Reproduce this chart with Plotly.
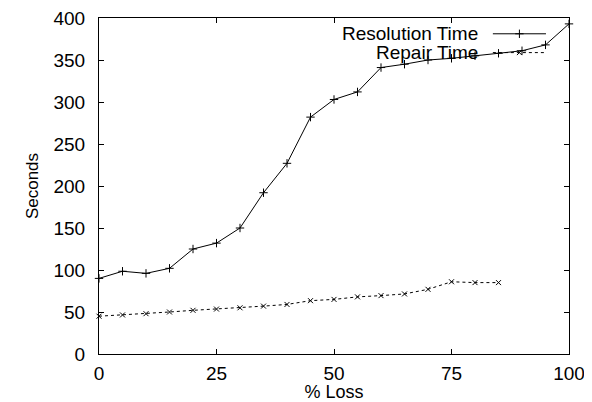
import plotly.graph_objects as go

loss = [0, 5, 10, 15, 20, 25, 30, 35, 40, 45, 50, 55, 60, 65, 70, 75, 80, 85, 90, 95, 100]
resolution_time = [90, 98.5, 96, 102, 125, 132, 150, 192, 227, 282, 303, 312, 341, 345, 350, 352, 355, 358, 361, 368, 393]
repair_loss = [0, 5, 10, 15, 20, 25, 30, 35, 40, 45, 50, 55, 60, 65, 70, 75, 80, 85]
repair_time = [45, 46.5, 48, 50, 52, 53.5, 55, 57, 59, 63.5, 65, 68, 69.5, 71.5, 77, 86, 85, 85]
x_ticks = [0, 25, 50, 75, 100]
y_ticks = [0, 50, 100, 150, 200, 250, 300, 350, 400]
series_names = ["Resolution Time", "Repair Time"]

FONT = "Liberation Sans, Arial, sans-serif"
DASH = "3px,3px"

fig = go.Figure()
fig.add_trace(go.Scatter(
    x=loss, y=resolution_time, mode="lines+markers", name=series_names[0],
    line=dict(color="black", width=1),
    marker=dict(symbol="cross-thin", size=6, line=dict(color="black", width=1)),
    showlegend=False, cliponaxis=False))
fig.add_trace(go.Scatter(
    x=repair_loss, y=repair_time, mode="lines+markers", name=series_names[1],
    line=dict(color="black", width=1, dash=DASH),
    marker=dict(symbol="x-thin", size=5, line=dict(color="black", width=1)),
    showlegend=False, cliponaxis=False))

# gnuplot-style legend: text right aligned, sample to the right
leg_x0, leg_x1 = 0.838, 0.951
leg_rows = [(0.953, "solid", "cross-thin", 6), (0.897, DASH, "x-thin", 5)]
for name, (yy, dash, sym, sz) in zip(series_names, leg_rows):
    fig.add_annotation(x=leg_x0 - 0.028, y=yy, xref="paper", yref="paper", text=name,
                       showarrow=False, xanchor="right", yanchor="middle",
                       font=dict(family=FONT, size=19, color="black"))
    fig.add_shape(type="line", xref="paper", yref="paper", x0=leg_x0, x1=leg_x1, y0=yy, y1=yy,
                  line=dict(color="black", width=1, dash=dash))
    fig.add_trace(go.Scatter(x=[(leg_x0 + leg_x1) / 2], y=[yy], xaxis="x2", yaxis="y2",
                             mode="markers", showlegend=False, hoverinfo="skip",
                             marker=dict(symbol=sym, size=sz, line=dict(color="black", width=1))))

axis_common = dict(showline=True, linecolor="black", linewidth=1, mirror="allticks",
                   ticks="inside", ticklen=5, tickcolor="black", tickwidth=1,
                   showgrid=False, zeroline=False, automargin=False,
                   ticklabeloverflow="allow",
                   tickfont=dict(family=FONT, size=19, color="black"))

# page body has an 8px margin, so the figure is sized to fit the window
fig.update_layout(
    width=584, height=394,
    margin=dict(l=91, r=23, t=10, b=48),
    paper_bgcolor="white", plot_bgcolor="white",
    font=dict(family=FONT, color="black"),
    xaxis=dict(range=[0, 100], tickvals=x_ticks, ticklabelstandoff=2,
               title=dict(text="% Loss", font=dict(family=FONT, size=18), standoff=8),
               **axis_common),
    yaxis=dict(range=[0, 400], tickvals=y_ticks, ticklabelstandoff=9,
               title=dict(text="Seconds", font=dict(family=FONT, size=17), standoff=10),
               **axis_common),
    xaxis2=dict(range=[0, 1], overlaying="x", visible=False, domain=[0, 1]),
    yaxis2=dict(range=[0, 1], overlaying="y", visible=False),
)

fig.write_html("out.html")
